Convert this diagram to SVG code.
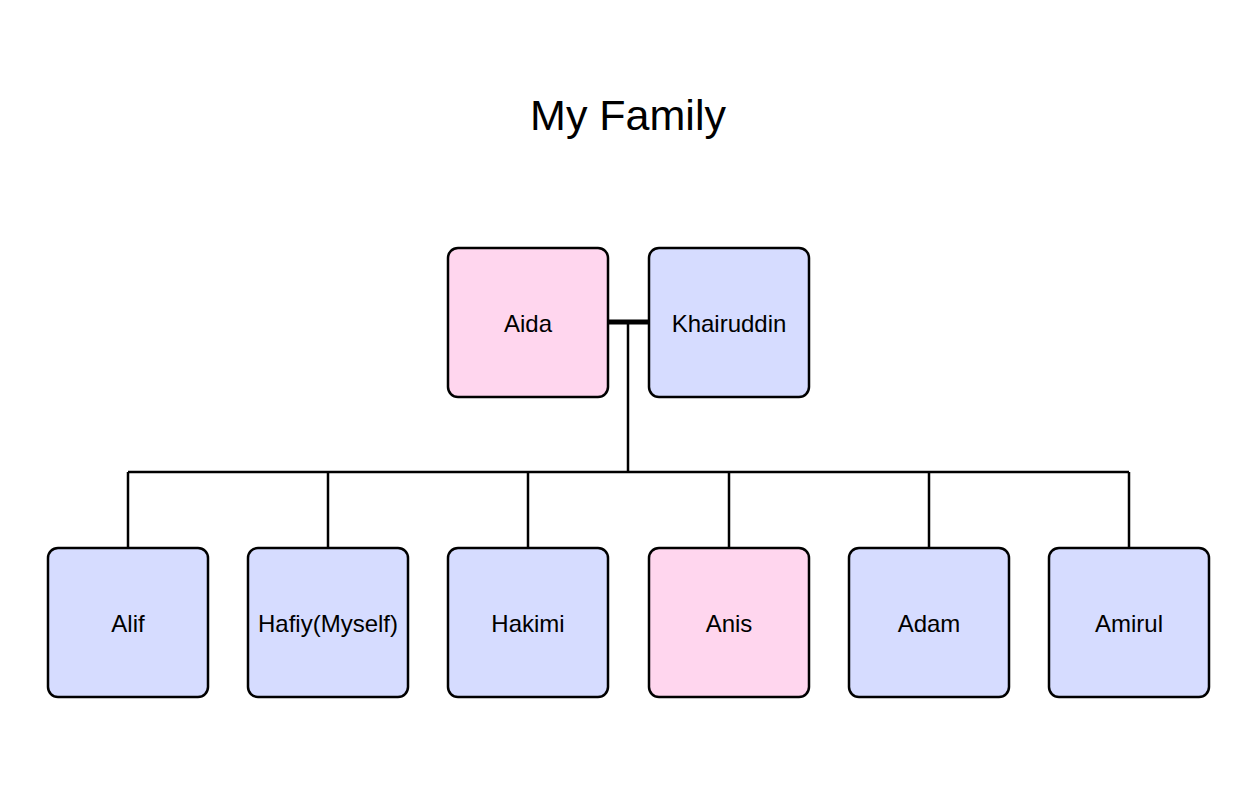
<svg xmlns="http://www.w3.org/2000/svg" width="1252" height="799" viewBox="0 0 1252 799">
<style>
.box{stroke:#000;stroke-width:2.5}
.m{fill:#D6DCFF}
.f{fill:#FFD6EE}
.lbl{font-family:"Liberation Sans",Arial,sans-serif;font-size:24px;fill:#000;text-anchor:middle}
.title{font-family:"Liberation Sans",Arial,sans-serif;font-size:43px;fill:#000;text-anchor:middle}
.ln{stroke:#000;stroke-width:2.5;fill:none}
</style>
<rect width="1252" height="799" fill="#fff"/>
<text class="title" x="628" y="130">My Family</text>
<g id="connectors">
<line class="ln" x1="608" y1="322" x2="649" y2="322" style="stroke-width:5"/>
<line class="ln" x1="628" y1="322" x2="628" y2="472"/>
<line class="ln" x1="128" y1="472" x2="1129" y2="472"/>
<line class="ln" x1="128" y1="472" x2="128" y2="548"/>
<line class="ln" x1="328" y1="472" x2="328" y2="548"/>
<line class="ln" x1="528" y1="472" x2="528" y2="548"/>
<line class="ln" x1="729" y1="472" x2="729" y2="548"/>
<line class="ln" x1="929" y1="472" x2="929" y2="548"/>
<line class="ln" x1="1129" y1="472" x2="1129" y2="548"/>
</g>
<g id="aida"><rect class="box f" x="448" y="248" width="160" height="149" rx="10"/><text class="lbl" x="528" y="332">Aida</text></g>
<g id="khairuddin"><rect class="box m" x="649" y="248" width="160" height="149" rx="10"/><text class="lbl" x="729" y="332">Khairuddin</text></g>
<g id="alif"><rect class="box m" x="48" y="548" width="160" height="149" rx="10"/><text class="lbl" x="128" y="632">Alif</text></g>
<g id="hafiy"><rect class="box m" x="248" y="548" width="160" height="149" rx="10"/><text class="lbl" x="328" y="632">Hafiy(Myself)</text></g>
<g id="hakimi"><rect class="box m" x="448" y="548" width="160" height="149" rx="10"/><text class="lbl" x="528" y="632">Hakimi</text></g>
<g id="anis"><rect class="box f" x="649" y="548" width="160" height="149" rx="10"/><text class="lbl" x="729" y="632">Anis</text></g>
<g id="adam"><rect class="box m" x="849" y="548" width="160" height="149" rx="10"/><text class="lbl" x="929" y="632">Adam</text></g>
<g id="amirul"><rect class="box m" x="1049" y="548" width="160" height="149" rx="10"/><text class="lbl" x="1129" y="632">Amirul</text></g>
</svg>
